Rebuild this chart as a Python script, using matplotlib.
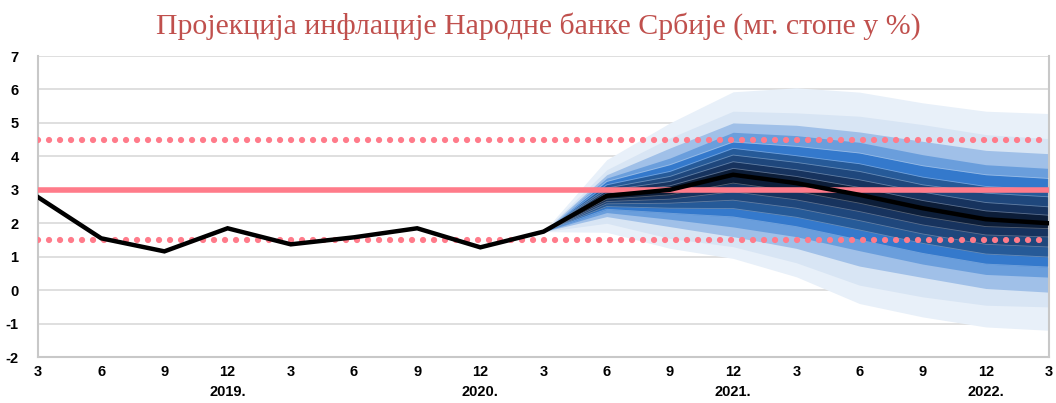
import numpy as np
import matplotlib
matplotlib.use("Agg")
import matplotlib.pyplot as plt

# quarters: 3/2019 ... 3/2023
tick_labels = ['3', '6', '9', '12'] * 4 + ['3']
years = ['2019.', '2020.', '2021.', '2022.']
year_pos = [3, 7, 11, 15]

# actual inflation + central projection (y-o-y, %)
inflation = [2.78, 1.55, 1.16, 1.85, 1.37, 1.58, 1.85, 1.28, 1.75,
             2.82, 3.0, 3.45, 3.2, 2.85, 2.45, 2.12, 2.0]
proj_start = 8

# fan band bounds, inner (1) to outer (9), for quarters 3/2021 ... 3/2023
upper = [
    [1.75, 2.90, 3.12, 3.64, 3.40, 3.07, 2.68, 2.37, 2.24],
    [1.75, 2.98, 3.25, 3.84, 3.60, 3.30, 2.93, 2.62, 2.49],
    [1.75, 3.05, 3.40, 4.04, 3.82, 3.55, 3.15, 2.90, 2.79],
    [1.75, 3.15, 3.55, 4.24, 4.02, 3.78, 3.38, 3.10, 3.00],
    [1.75, 3.25, 3.75, 4.43, 4.30, 4.10, 3.72, 3.45, 3.34],
    [1.75, 3.35, 3.95, 4.72, 4.62, 4.42, 4.05, 3.75, 3.64],
    [1.75, 3.45, 4.25, 5.00, 4.93, 4.73, 4.45, 4.18, 4.08],
    [1.75, 3.60, 4.55, 5.35, 5.30, 5.20, 4.95, 4.65, 4.53],
    [1.75, 3.90, 5.00, 5.93, 6.05, 5.92, 5.60, 5.35, 5.28],
]
lower = [
    [1.75, 2.72, 2.85, 3.20, 2.95, 2.60, 2.20, 1.90, 1.84],
    [1.75, 2.65, 2.72, 2.94, 2.70, 2.35, 1.95, 1.65, 1.59],
    [1.75, 2.58, 2.60, 2.69, 2.45, 2.08, 1.68, 1.37, 1.29],
    [1.75, 2.50, 2.45, 2.44, 2.18, 1.80, 1.40, 1.08, 0.99],
    [1.75, 2.42, 2.30, 2.19, 1.90, 1.50, 1.10, 0.78, 0.69],
    [1.75, 2.32, 2.12, 1.89, 1.60, 1.18, 0.78, 0.47, 0.39],
    [1.75, 2.20, 1.90, 1.60, 1.25, 0.72, 0.38, 0.05, -0.06],
    [1.75, 2.00, 1.55, 1.30, 0.82, 0.15, -0.20, -0.45, -0.50],
    [1.75, 1.73, 1.25, 0.95, 0.40, -0.40, -0.80, -1.10, -1.20],
]
# inner to outer
band_colors = ['#0c1d38', '#17335e', '#1f477c', '#265a98', '#3479cc',
               '#3479cc', '#6a9edc', '#a0c0e8', '#d8e5f4']
band_colors[8] = '#e8f0f9'
band_colors[7] = '#d8e5f4'
band_colors[6] = '#a0c0e8'
band_colors[5] = '#6a9edc'
band_colors[4] = '#3479cc'

target = 3.0
tol_low, tol_high = 1.5, 4.5

plt.rcParams['font.family'] = ['Liberation Sans', 'DejaVu Sans']
plt.rcParams['axes.unicode_minus'] = False

fig = plt.figure(figsize=(10.56, 4.03), dpi=100)
ax = fig.add_axes([0.036, 0.114, 0.9574, 0.747])

x = np.arange(len(inflation))
xp = x[proj_start:]

for k in range(len(upper) - 1, -1, -1):
    ax.fill_between(xp, lower[k], upper[k], color=band_colors[k], lw=0, zorder=2)
for k in range(5):
    ax.plot(xp, upper[k], color='white', alpha=0.3, lw=0.6, zorder=3)
    ax.plot(xp, lower[k], color='white', alpha=0.3, lw=0.6, zorder=3)

pink = '#ff7b8a'
ax.axhline(target, color=pink, lw=4, zorder=4)
for lvl in (tol_low, tol_high):
    ax.axhline(lvl, color=pink, lw=4.5, ls=(0, (0.01, 1.75)),
               dash_capstyle='round', zorder=4)

ax.plot(x, inflation, color='black', lw=3.2, zorder=5, solid_joinstyle='miter')

ax.set_xlim(0, 16)
ax.set_ylim(-2, 7)
ax.set_yticks(range(-2, 8))
ax.set_xticks(x)
ax.set_xticklabels(tick_labels)
ax.grid(axis='y', color='#d9d9d9', lw=1.2, zorder=0)
ax.set_axisbelow(True)
ax.tick_params(length=0, labelsize=10.5, pad=6)
ax.tick_params(axis='y', pad=14)
for lab in ax.get_xticklabels() + ax.get_yticklabels():
    lab.set_fontweight('bold')
for side in ['left', 'bottom', 'right']:
    ax.spines[side].set_color('#c8c8c8')
    ax.spines[side].set_linewidth(1.5)
ax.spines['top'].set_visible(False)

for p, yr in zip(year_pos, years):
    ax.text(p, -0.117, yr, transform=ax.get_xaxis_transform(), ha='center',
            va='center', fontsize=10.5, fontweight='bold')

fig.text(0.51, 0.935, 'Пројекција инфлације Народне банке Србије (мг. стопе у %)',
         ha='center', va='center', fontsize=21.5, color='#c0504d',
         family=['Liberation Serif', 'DejaVu Serif'])

fig.savefig('out.png', dpi=100)
